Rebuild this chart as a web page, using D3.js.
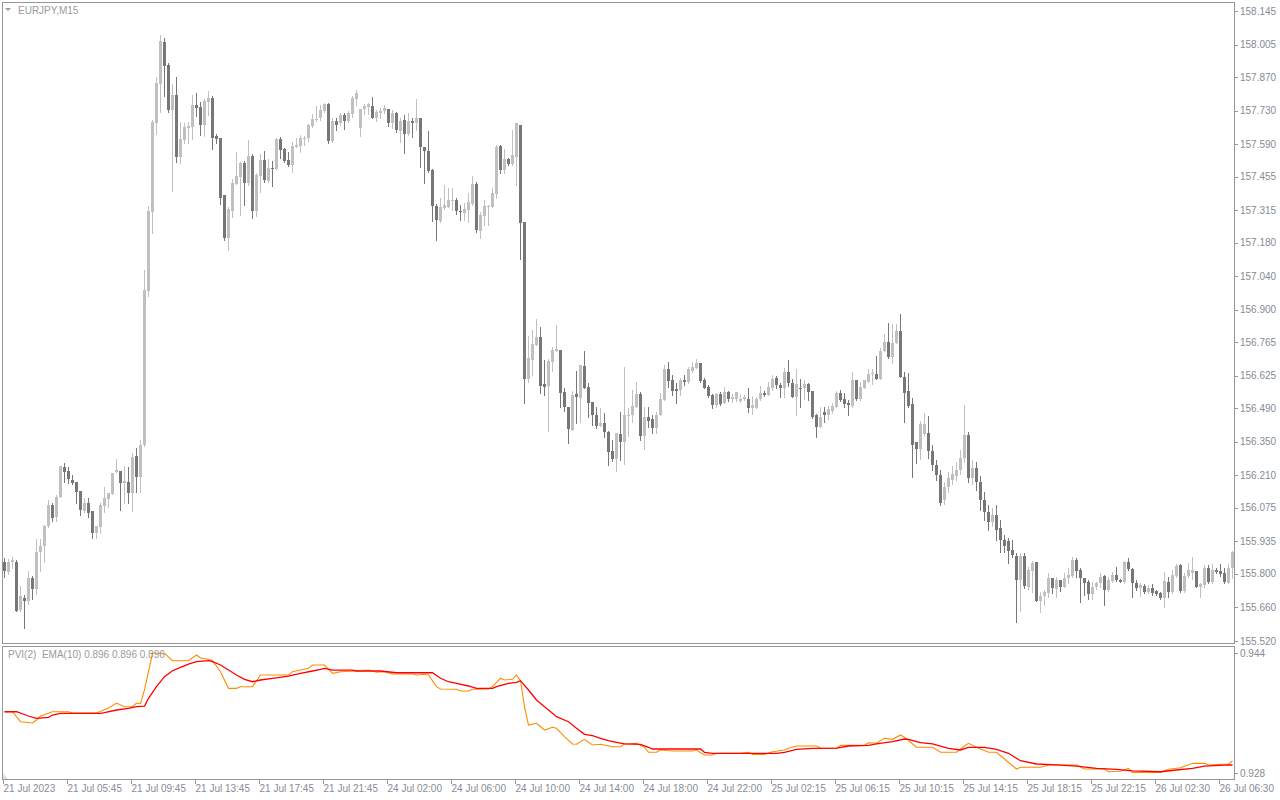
<!DOCTYPE html>
<html><head><meta charset="utf-8">
<script src="https://cdn.jsdelivr.net/npm/d3@7"></script>
<style>html,body{margin:0;padding:0;background:#fff;overflow:hidden}</style>
</head><body>
<svg id="c" width="1280" height="800"></svg>
<script>
const symbolLabel = "EURJPY,M15";
const indicatorLabel = "PVI(2)  EMA(10) 0.896 0.896 0.896";

const openP = [
155.849,155.808,155.849,155.849,155.649,155.699,155.687,155.783,155.737,155.891,
155.916,155.999,156.087,156.037,156.120,156.245,156.228,156.191,156.183,156.145,
156.062,156.095,156.062,155.970,155.995,156.083,156.112,156.133,156.224,156.228,
156.178,156.183,156.137,156.291,156.203,156.337,156.978,157.308,157.678,157.841,
158.016,157.920,157.733,157.795,157.537,157.608,157.658,157.662,157.753,157.745,
157.670,157.766,157.783,157.624,157.616,157.378,157.199,157.312,157.424,157.453,
157.512,157.428,157.541,157.312,157.458,157.524,157.437,157.491,157.487,157.612,
157.570,157.524,157.503,157.578,157.583,157.612,157.616,157.666,157.691,157.699,
157.728,157.758,157.603,157.687,157.678,157.712,157.687,157.716,157.778,157.658,
157.737,157.745,157.749,157.699,157.720,157.728,157.737,157.678,157.720,157.645,
157.691,157.633,157.687,157.678,157.699,157.578,157.562,157.483,157.333,157.270,
157.324,157.328,157.353,157.358,157.312,157.303,157.316,157.341,157.424,157.228,
157.291,157.328,157.328,157.383,157.583,157.483,157.528,157.508,157.537,157.670,
157.266,156.612,156.691,156.753,156.787,156.591,156.583,156.683,156.728,156.733,
156.558,156.495,156.399,156.549,156.533,156.666,156.578,156.516,156.462,156.416,
156.428,156.391,156.312,156.278,156.383,156.349,156.458,156.462,156.495,156.549,
156.374,156.453,156.445,156.408,156.462,156.524,156.653,156.608,156.570,156.566,
156.608,156.599,156.645,156.658,156.678,156.608,156.578,156.545,156.503,156.549,
156.512,156.558,156.528,156.528,156.520,156.528,156.528,156.491,156.491,156.528,
156.553,156.545,156.574,156.616,156.587,156.574,156.641,156.595,156.537,156.574,
156.574,156.591,156.562,156.462,156.412,156.474,156.462,156.478,156.495,156.553,
156.528,156.512,156.499,156.608,156.528,156.574,156.599,156.633,156.633,156.612,
156.728,156.766,156.703,156.762,156.812,156.620,156.562,156.508,156.349,156.320,
156.383,156.387,156.312,156.253,156.212,156.108,156.162,156.191,156.208,156.233,
156.283,156.378,156.199,156.241,156.183,156.108,156.058,156.016,156.045,155.991,
155.941,155.937,155.899,155.874,155.774,155.874,155.745,155.812,155.849,155.687,
155.708,155.720,155.783,155.737,155.774,155.745,155.783,155.791,155.858,155.816,
155.783,155.766,155.716,155.745,155.762,155.791,155.733,155.770,155.795,155.774,
155.766,155.849,155.820,155.762,155.741,155.749,155.724,155.741,155.728,155.720,
155.699,155.766,155.724,155.791,155.837,155.728,155.791,155.803,155.812,155.745,
155.753,155.824,155.766,155.816,155.812,155.803,155.762,155.824];

const highP = [
155.866,155.862,155.870,155.858,155.749,155.712,155.812,155.791,155.945,155.945,
156.003,156.108,156.095,156.128,156.249,156.262,156.245,156.212,156.183,156.145,
156.116,156.116,156.062,155.999,156.095,156.162,156.137,156.220,156.278,156.228,
156.249,156.245,156.303,156.324,156.358,157.066,157.333,157.691,157.870,158.045,
158.033,157.928,157.841,157.870,157.683,157.678,157.683,157.795,157.803,157.766,
157.778,157.812,157.791,157.633,157.616,157.378,157.328,157.445,157.558,157.516,
157.520,157.608,157.549,157.470,157.549,157.562,157.528,157.520,157.616,157.620,
157.574,157.558,157.599,157.616,157.628,157.624,157.674,157.716,157.749,157.753,
157.762,157.762,157.699,157.699,157.720,157.720,157.728,157.791,157.816,157.737,
157.758,157.762,157.787,157.733,157.741,157.753,157.737,157.733,157.724,157.699,
157.712,157.720,157.699,157.778,157.699,157.578,157.645,157.487,157.341,157.366,
157.420,157.408,157.408,157.366,157.337,157.345,157.387,157.458,157.433,157.308,
157.358,157.337,157.408,157.587,157.587,157.570,157.533,157.649,157.678,157.670,
157.266,156.791,156.816,156.862,156.828,156.691,156.695,156.745,156.837,156.733,
156.574,156.495,156.562,156.645,156.670,156.728,156.595,156.516,156.495,156.491,
156.470,156.395,156.358,156.387,156.474,156.662,156.491,156.566,156.599,156.558,
156.495,156.495,156.462,156.474,156.553,156.670,156.683,156.628,156.595,156.616,
156.628,156.662,156.683,156.695,156.678,156.616,156.587,156.549,156.553,156.558,
156.578,156.562,156.549,156.558,156.549,156.545,156.574,156.541,156.537,156.583,
156.562,156.599,156.628,156.624,156.595,156.658,156.691,156.612,156.653,156.612,
156.608,156.595,156.562,156.466,156.495,156.495,156.499,156.512,156.562,156.566,
156.553,156.524,156.641,156.608,156.599,156.608,156.653,156.653,156.708,156.741,
156.799,156.845,156.841,156.841,156.883,156.641,156.637,156.533,156.349,156.437,
156.470,156.458,156.337,156.274,156.233,156.183,156.224,156.249,156.266,156.316,
156.503,156.391,156.274,156.266,156.208,156.141,156.087,156.074,156.087,156.024,
155.962,155.949,155.941,155.887,155.887,155.887,155.828,155.853,155.849,155.724,
155.733,155.803,155.783,155.787,155.774,155.803,155.824,155.870,155.866,155.824,
155.783,155.774,155.766,155.766,155.803,155.795,155.787,155.808,155.828,155.778,
155.853,155.866,155.824,155.774,155.762,155.758,155.753,155.758,155.733,155.724,
155.808,155.787,155.816,155.841,155.841,155.803,155.845,155.870,155.812,155.762,
155.837,155.837,155.841,155.824,155.841,155.824,155.841,155.895];

const lowP = [
155.787,155.799,155.824,155.645,155.645,155.574,155.674,155.695,155.716,155.812,
155.849,155.995,156.020,156.020,156.120,156.183,156.178,156.174,156.095,156.045,
156.058,156.037,155.949,155.949,155.970,156.058,156.078,156.133,156.224,156.066,
156.095,156.095,156.062,156.141,156.141,156.333,156.958,157.220,157.633,157.724,
157.791,157.724,157.395,157.516,157.512,157.595,157.595,157.612,157.708,157.628,
157.624,157.712,157.570,157.595,157.341,157.191,157.149,157.287,157.424,157.295,
157.337,157.420,157.283,157.291,157.391,157.433,157.433,157.416,157.487,157.533,
157.516,157.499,157.474,157.578,157.558,157.587,157.603,157.662,157.687,157.691,
157.724,157.595,157.599,157.649,157.670,157.653,157.683,157.703,157.753,157.624,
157.716,157.716,157.699,157.687,157.699,157.720,157.666,157.658,157.641,157.599,
157.553,157.628,157.620,157.649,157.495,157.428,157.474,157.270,157.191,157.266,
157.320,157.328,157.316,157.299,157.274,157.274,157.266,157.337,157.224,157.199,
157.253,157.253,157.328,157.366,157.470,157.470,157.503,157.503,157.420,157.112,
156.512,156.599,156.628,156.753,156.553,156.545,156.395,156.645,156.728,156.495,
156.478,156.345,156.399,156.428,156.433,156.574,156.453,156.420,156.408,156.416,
156.370,156.253,156.270,156.228,156.274,156.258,156.374,156.433,156.495,156.358,
156.320,156.412,156.387,156.387,156.462,156.524,156.578,156.545,156.512,156.545,
156.587,156.595,156.641,156.658,156.599,156.574,156.537,156.491,156.495,156.503,
156.512,156.520,156.516,156.520,156.516,156.524,156.474,156.466,156.491,156.524,
156.541,156.545,156.566,156.574,156.537,156.537,156.583,156.537,156.462,156.495,
156.528,156.524,156.449,156.370,156.412,156.433,156.445,156.470,156.495,156.520,
156.495,156.462,156.495,156.524,156.524,156.574,156.599,156.591,156.612,156.612,
156.728,156.699,156.678,156.762,156.620,156.433,156.495,156.203,156.262,156.278,
156.378,156.283,156.233,156.191,156.087,156.091,156.141,156.174,156.191,156.216,
156.266,156.183,156.174,156.149,156.066,156.024,155.983,155.999,155.941,155.891,
155.891,155.845,155.870,155.599,155.645,155.741,155.737,155.724,155.687,155.641,
155.670,155.703,155.720,155.703,155.728,155.745,155.762,155.787,155.787,155.683,
155.712,155.695,155.695,155.737,155.745,155.670,155.728,155.766,155.770,155.766,
155.762,155.816,155.703,155.733,155.708,155.720,155.720,155.712,155.712,155.695,
155.662,155.703,155.720,155.787,155.724,155.724,155.787,155.778,155.745,155.703,
155.745,155.762,155.762,155.803,155.791,155.762,155.762,155.783];

const closeP = [
155.812,155.849,155.858,155.645,155.708,155.687,155.783,155.737,155.891,155.916,
155.999,156.087,156.033,156.120,156.249,156.224,156.195,156.178,156.141,156.066,
156.095,156.053,155.970,155.999,156.087,156.116,156.137,156.220,156.233,156.178,
156.187,156.137,156.287,156.203,156.337,156.983,157.312,157.683,157.845,158.020,
157.916,157.733,157.795,157.537,157.612,157.662,157.666,157.753,157.741,157.670,
157.770,157.783,157.616,157.612,157.366,157.199,157.320,157.428,157.458,157.512,
157.428,157.541,157.312,157.462,157.524,157.441,157.491,157.487,157.612,157.566,
157.520,157.503,157.583,157.587,157.616,157.616,157.670,157.695,157.695,157.733,
157.758,157.603,157.687,157.670,157.712,157.687,157.720,157.783,157.803,157.737,
157.749,157.758,157.699,157.724,157.728,157.741,157.678,157.720,157.649,157.687,
157.633,157.687,157.678,157.699,157.578,157.562,157.478,157.333,157.274,157.328,
157.337,157.358,157.358,157.312,157.308,157.320,157.349,157.424,157.233,157.295,
157.333,157.333,157.387,157.578,157.483,157.528,157.508,157.545,157.678,157.262,
156.612,156.699,156.758,156.787,156.583,156.578,156.687,156.733,156.737,156.553,
156.495,156.403,156.545,156.537,156.670,156.574,156.512,156.462,156.416,156.428,
156.391,156.308,156.278,156.387,156.349,156.462,156.462,156.499,156.549,156.374,
156.453,156.437,156.408,156.462,156.528,156.653,156.603,156.562,156.562,156.608,
156.599,156.653,156.662,156.678,156.603,156.574,156.541,156.503,156.549,156.508,
156.558,156.528,156.537,156.558,156.528,156.537,156.491,156.503,156.528,156.553,
156.545,156.578,156.612,156.587,156.574,156.641,156.595,156.537,156.591,156.570,
156.591,156.558,156.453,156.412,156.453,156.462,156.487,156.499,156.553,156.524,
156.508,156.503,156.608,156.528,156.578,156.608,156.633,156.637,156.612,156.728,
156.766,156.703,156.762,156.812,156.620,156.553,156.499,156.337,156.320,156.424,
156.424,156.312,156.253,156.212,156.095,156.162,156.199,156.216,156.233,156.283,
156.378,156.199,156.241,156.183,156.108,156.058,156.016,156.045,155.983,155.941,
155.916,155.895,155.878,155.774,155.874,155.749,155.816,155.845,155.687,155.708,
155.724,155.783,155.741,155.774,155.745,155.783,155.795,155.858,155.812,155.783,
155.762,155.716,155.745,155.762,155.787,155.733,155.774,155.795,155.774,155.766,
155.849,155.820,155.762,155.741,155.753,155.724,155.741,155.720,155.716,155.699,
155.770,155.724,155.795,155.833,155.728,155.791,155.816,155.816,155.745,155.758,
155.824,155.766,155.816,155.808,155.799,155.766,155.824,155.891];

const priceTicks = [158.145,158.005,157.870,157.730,157.590,157.455,157.315,157.180,157.040,156.900,
  156.765,156.625,156.490,156.350,156.210,156.075,155.935,155.800,155.660,155.520];
const pviTicks = [0.944, 0.928];
const timeTickIndex = [0,16,32,48,64,80,96,112,128,144,160,176,192,208,224,240,256,272,288,304];
const timeLabels = ["21 Jul 2023","21 Jul 05:45","21 Jul 09:45","21 Jul 13:45","21 Jul 17:45","21 Jul 21:45",
  "24 Jul 02:00","24 Jul 06:00","24 Jul 10:00","24 Jul 14:00","24 Jul 18:00","24 Jul 22:00",
  "25 Jul 02:15","25 Jul 06:15","25 Jul 10:15","25 Jul 14:15","25 Jul 18:15","25 Jul 22:15",
  "26 Jul 02:30","26 Jul 06:30"];

// PVI(2) line vertices: [bar index, value]
const pviPoints = [
[0,.93617],[2,.93617],[4,.93484],[7,.93467],[8,.93507],[9,.9356],[12,.93617],[16,.93617],[17,.936],[23,.936],
[26,.93667],[28,.93733],[30,.93684],[32,.93684],[33,.93733],[34,.93724],[35,.93907],[36,.94151],[37,.94396],[40,.94396],
[42,.94297],[46,.94297],[48,.94373],[49,.94333],[51,.94316],[52,.94297],[54,.94151],[56,.93929],[58,.93929],[59,.93951],
[62,.93951],[64,.94107],[71,.94107],[72,.94151],[74,.94173],[76,.94196],[77,.9424],[80,.9424],[82,.94129],[84,.94151],
[88,.9416],[91,.94173],[93,.94143],[95,.94151],[97,.9412],[102,.9412],[103,.94107],[105,.94116],[106,.94107],[108,.93951],
[109,.9392],[113,.93916],[114,.93893],[116,.93893],[117,.93916],[121,.9392],[122,.93951],[124,.94063],[125,.9404],[127,.94049],
[128,.94107],[129,.94031],[130,.93684],[131,.9344],[133,.93463],[135,.93373],[137,.93409],[138,.93396],[140,.93284],[142,.93187],
[143,.93183],[145,.93249],[147,.93173],[149,.93183],[152,.93151],[154,.93151],[155,.93187],[158,.93196],[160,.93143],[161,.93076],
[163,.93076],[164,.93107],[167,.93093],[172,.93093],[173,.93107],[175,.9304],[177,.9304],[178,.93063],[184,.93063],[186,.93076],
[187,.93049],[190,.93049],[192,.93084],[195,.93107],[196,.93129],[198,.9316],[203,.9316],[204,.93129],[208,.93129],[209,.93169],
[215,.93169],[216,.93204],[218,.93196],[220,.93263],[222,.93249],[224,.93307],[225,.93276],[228,.93143],[232,.93143],[234,.93076],
[238,.93076],[240,.9316],[241,.93196],[243,.93143],[246,.93076],[248,.93076],[250,.92987],[253,.92853],[254,.92876],[259,.92876],
[261,.92907],[268,.92907],[270,.92853],[275,.92853],[276,.92817],[279,.92823],[281,.92863],[282,.92809],[289,.92809],[291,.92849],
[294,.92871],[297,.92929],[300,.92929],[301,.92907],[306,.9292],[307,.9296]];

// EMA(10) line vertices: [bar index, value]
const emaPoints = [
[0,.93617],[3,.93617],[6,.9356],[8,.93529],[11,.93543],[12,.93573],[14,.93596],[24,.93596],[25,.93604],[28,.9364],
[31,.93663],[33,.93684],[35,.93693],[36,.93796],[38,.93951],[40,.94084],[42,.94164],[44,.94209],[46,.94253],[48,.94284],
[51,.94297],[52,.94284],[54,.9424],[56,.94173],[58,.94107],[60,.94049],[62,.94017],[64,.9404],[67,.94063],[71,.94093],
[74,.94129],[77,.9416],[79,.94183],[80,.94196],[82,.94173],[87,.94173],[88,.9416],[94,.9416],[98,.94137],[107,.94137],
[109,.94063],[111,.94017],[113,.93996],[116,.9396],[118,.93929],[122,.93929],[123,.93951],[126,.93996],[128,.94009],[129,.94031],
[131,.93907],[133,.93773],[135,.93684],[137,.93596],[138,.93551],[141,.93484],[143,.93396],[145,.93316],[147,.93297],[149,.93263],
[151,.93231],[153,.93209],[155,.93187],[159,.93183],[161,.93143],[162,.9312],[174,.9312],[175,.93076],[177,.93063],[193,.93063],
[195,.93076],[198,.93116],[202,.93129],[208,.93133],[211,.9316],[216,.93169],[218,.93187],[222,.93217],[225,.93253],[226,.93249],
[229,.93204],[232,.93187],[236,.93129],[239,.93107],[241,.93143],[245,.93143],[248,.93116],[251,.93063],[254,.92964],[258,.9292],
[263,.92907],[268,.92893],[273,.92863],[278,.92849],[282,.92827],[289,.92817],[293,.9284],[297,.92863],[300,.92893],[306,.92907],
[307,.92907]];

const bars = openP.map((o, i) => ({i, o, h: highP[i], l: lowP[i], c: closeP[i]}));

const svg = d3.select("#c");
const FONT = "'Liberation Sans', Arial, sans-serif";
const TEXT = "#858b96";
const FRAME = "#979797";

const x = d3.scaleLinear().domain([0, 307]).range([4.5, 1232.5]);
const y = d3.scaleLinear().domain([155.52, 158.145]).range([641, 11]);
const yi = d3.scaleLinear().domain([0.928, 0.944]).range([773, 653]);

svg.append("rect").attr("width", 1280).attr("height", 800).attr("fill", "#fff");

// frames
svg.append("rect").attr("x", 2.5).attr("y", 2.5).attr("width", 1232).attr("height", 641)
  .attr("fill", "none").attr("stroke", FRAME);
svg.append("rect").attr("x", 2.5).attr("y", 646.5).attr("width", 1232).attr("height", 133)
  .attr("fill", "none").attr("stroke", FRAME);

// candles
const LIGHT = "#c0c0c0", DARK = "#777777";
const g = svg.append("g").attr("shape-rendering", "crispEdges");
const cg = g.selectAll("g.k").data(bars).join("g").attr("class", "k")
  .attr("fill", d => d.c >= d.o ? LIGHT : DARK);
cg.append("rect")
  .attr("x", d => x(d.i) - 0.5).attr("width", 1)
  .attr("y", d => Math.round(y(d.h)))
  .attr("height", d => Math.max(1, Math.round(y(d.l)) - Math.round(y(d.h)) + 1));
cg.append("rect")
  .attr("x", d => x(d.i) - 1.5).attr("width", 3)
  .attr("y", d => Math.round(y(Math.max(d.o, d.c))))
  .attr("height", d => Math.max(1, Math.round(y(Math.min(d.o, d.c))) - Math.round(y(Math.max(d.o, d.c)))));

// price axis
const pa = svg.append("g").attr("shape-rendering", "crispEdges");
pa.selectAll("line").data(priceTicks).join("line")
  .attr("x1", 1234).attr("x2", 1238)
  .attr("y1", d => Math.round(y(d)) + 0.5).attr("y2", d => Math.round(y(d)) + 0.5)
  .attr("stroke", FRAME);
svg.append("g").selectAll("text").data(priceTicks).join("text")
  .attr("x", 1240).attr("y", d => y(d) + 3.5)
  .attr("font-family", FONT).attr("font-size", 10).attr("fill", TEXT)
  .text(d => d3.format(".3f")(d));

// indicator axis
svg.append("g").selectAll("line").data(pviTicks).join("line")
  .attr("x1", 1234).attr("x2", 1238)
  .attr("y1", d => Math.round(yi(d)) + 0.5).attr("y2", d => Math.round(yi(d)) + 0.5)
  .attr("stroke", FRAME).attr("shape-rendering", "crispEdges");
svg.append("g").selectAll("text").data(pviTicks).join("text")
  .attr("x", 1240).attr("y", d => yi(d) + 3.5)
  .attr("font-family", FONT).attr("font-size", 10).attr("fill", TEXT)
  .text(d => d3.format(".3f")(d));

// time axis
const tg = svg.append("g");
tg.selectAll("line").data(timeTickIndex).join("line")
  .attr("x1", d => x(d) - 1).attr("x2", d => x(d) - 1)
  .attr("y1", 780).attr("y2", 784)
  .attr("stroke", FRAME).attr("shape-rendering", "crispEdges");
tg.selectAll("text").data(timeTickIndex).join("text")
  .attr("x", d => x(d) - 1).attr("y", 792)
  .attr("font-family", FONT).attr("font-size", 10).attr("fill", TEXT)
  .text((d, k) => timeLabels[k]);

// indicator lines
const line = d3.line().x(d => x(d[0])).y(d => yi(d[1]));
svg.append("path").datum(pviPoints).attr("d", line)
  .attr("fill", "none").attr("stroke", "#ff8c00").attr("stroke-width", 1.1);
svg.append("path").datum(emaPoints).attr("d", line)
  .attr("fill", "none").attr("stroke", "#ff0000").attr("stroke-width", 1.3);

// labels
svg.append("path").attr("d", "M5,8 L11,8 L8,11 Z").attr("fill", "#9a9a9a");
svg.append("text").attr("x", 18).attr("y", 14)
  .attr("font-family", FONT).attr("font-size", 10).attr("fill", "#9a9a9a").text(symbolLabel);
svg.append("text").attr("x", 8).attr("y", 658)
  .attr("font-family", FONT).attr("font-size", 10).attr("fill", "#9a9a9a")
  .attr("xml:space", "preserve").style("white-space", "pre").text(indicatorLabel);
svg.append("path").attr("d", "M3,773 L3,779 L8,779 Z").attr("fill", "#e0e0e0");
</script>
</body></html>
